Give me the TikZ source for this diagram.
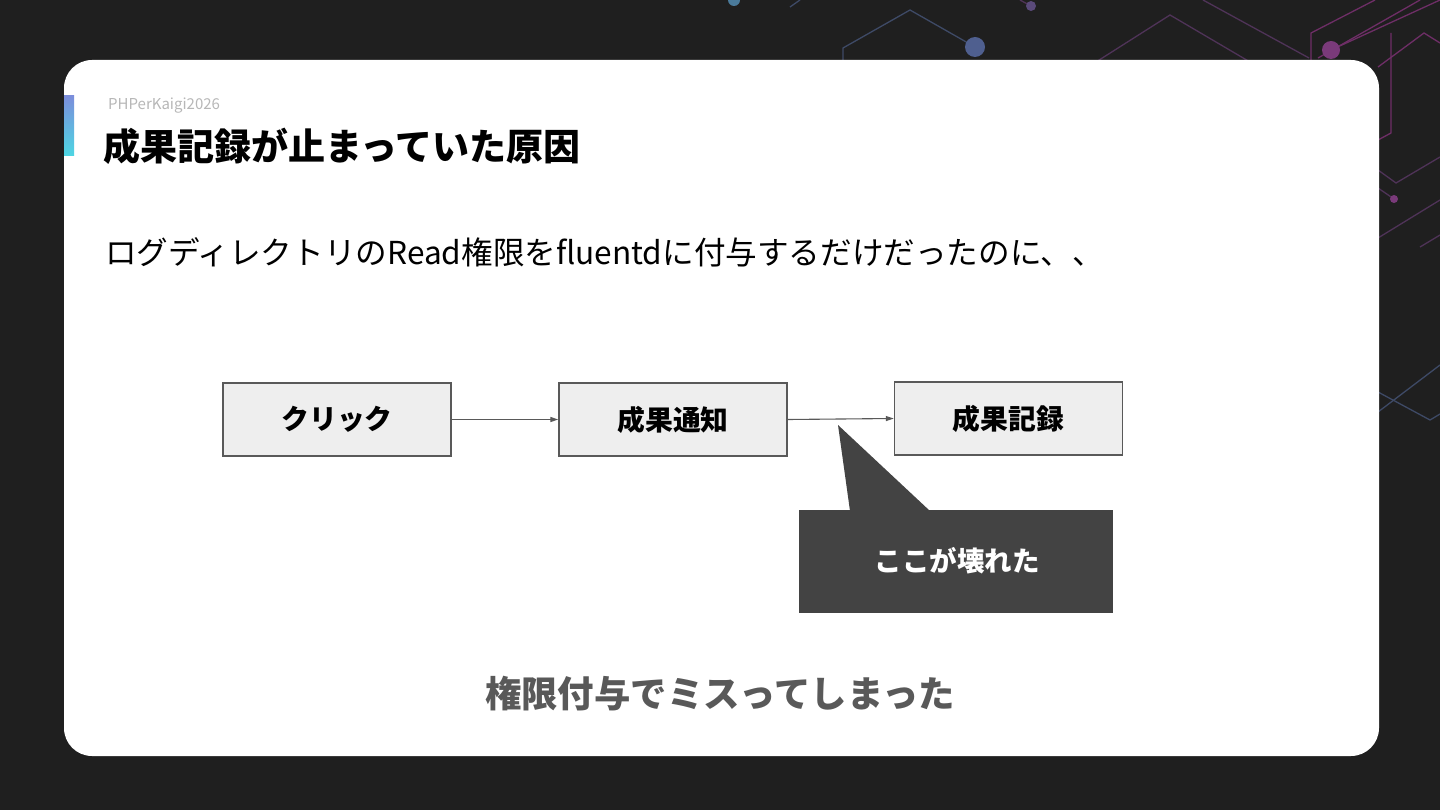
\documentclass[tikz,border=0pt]{standalone}
\usepackage{fontspec}
\setmainfont{Noto Sans CJK JP}
\newfontfamily\jp{Noto Sans CJK JP}
\usetikzlibrary{arrows.meta}
\definecolor{bg}{HTML}{1F1F1F}
\definecolor{boxfill}{HTML}{EEEEEE}
\definecolor{boxline}{HTML}{595959}
\definecolor{callout}{HTML}{434343}
\definecolor{bottomtxt}{HTML}{595959}
\definecolor{hdrgray}{HTML}{B7B7B7}
\definecolor{decoblue}{HTML}{3E4A66}
\definecolor{decopurple}{HTML}{4F3358}
\definecolor{decopink}{HTML}{6E2E66}
\definecolor{dotblue}{HTML}{4F5F8F}
\definecolor{dotcyan}{HTML}{4A7A9A}
\definecolor{dotpurple}{HTML}{5A4A7A}
\definecolor{dotpink}{HTML}{7A3A7A}
\definecolor{accenttop}{HTML}{7B8EDB}
\definecolor{accentbot}{HTML}{4DD6E3}
\tikzset{
  flowbox/.style={draw=boxline, line width=1.4pt, fill=boxfill, minimum width=228pt, minimum height=73pt, inner sep=0pt, font=\jp\bfseries\fontsize{27.8}{32}\selectfont, text=black},
  flowarrow/.style={draw=boxline, line width=1.1pt, -{Triangle[length=8pt,width=5pt]}},
  deco/.style={line width=1.3pt},
}
\begin{document}
\begin{tikzpicture}[x=1pt,y=-1pt]
\useasboundingbox (0,0) rectangle (1440,810);
\fill[bg] (0,0) rectangle (1440,810);
% decoration lines
\draw[deco, decoblue] (843,62) -- (843,48) -- (910,10) -- (975,47);
\draw[deco, decoblue] (790,7) -- (800,0);
\fill[dotcyan] (734,0) circle (6);
\fill[dotblue] (975,47) circle (10);
\draw[deco, decopurple] (1020,0) -- (1031,6);
\fill[dotpurple] (1031,6) circle (5);
\draw[deco, decopurple] (1096,62) -- (1170,15) -- (1250,62);
\draw[deco, decopurple] (1203,0) -- (1309,58);
\draw[deco, decopink] (1311,62) -- (1311,33) -- (1375,0);
\draw[deco, decopink] (1318,58) -- (1420,0);
\draw[deco, decopink] (1331,50) -- (1440,0);
\draw[deco, decopink] (1391,33) -- (1391,133) -- (1378,140);
\draw[deco, decopink] (1378,67) -- (1424,33) -- (1440,43);
\fill[dotpink] (1331,50) circle (9);
\draw[deco, decopurple] (1378,170) -- (1396,183) -- (1440,157);
\draw[deco, decopurple] (1378,188) -- (1394,199);
\fill[dotpink] (1394,199) circle (4);
\draw[deco, decopurple] (1378,238) -- (1440,200);
\draw[deco, decopurple] (1420,247) -- (1440,235);
\draw[deco, decoblue] (1378,412) -- (1440,365);
\draw[deco, decoblue] (1378,392) -- (1430,420) -- (1440,414);
% card
\fill[white, rounded corners=28pt] (64,60) rectangle (1379,756);
\shade[top color=accenttop, bottom color=accentbot] (64,96) rectangle (74,156);
% header
\node[anchor=west, inner sep=0pt, text=hdrgray, font=\jp\fontsize{15}{17}\selectfont] (hdr) at (108,106) {PHPerKaigi2026};
\node[anchor=west, inner sep=0pt, text=black, font=\jp\bfseries\fontsize{37}{42}\selectfont] (title) at (103,146) {成果記録が止まっていた原因};
\node[anchor=west, inner sep=0pt, text=black, font=\jp\fontsize{31.6}{36}\selectfont] (body) at (105,252) {ログディレクトリのRead権限をfluentdに付与するだけだったのに、、};
% flow
\node[flowbox] (click) at (337,419.5) {クリック};
\node[flowbox] (notify) at (673,419.5) {成果通知};
\node[flowbox] (record) at (1008.5,418.5) {成果記録};
\draw[flowarrow] (click.east) -- (notify.west);
\draw[flowarrow] (notify.east) -- (record.west);
% callout
\fill[callout] (799,510) rectangle (1113,613);
\fill[callout] (850,511) -- (838,425) -- (930,511) -- cycle;
\node[text=white, font=\jp\bfseries\fontsize{27.5}{32}\selectfont, inner sep=0pt] (broken) at (957,561) {ここが壊れた};
% bottom
\node[text=bottomtxt, font=\jp\bfseries\fontsize{36.4}{42}\selectfont, inner sep=0pt] (summary) at (720,694) {権限付与でミスってしまった};
\end{tikzpicture}
\end{document}
